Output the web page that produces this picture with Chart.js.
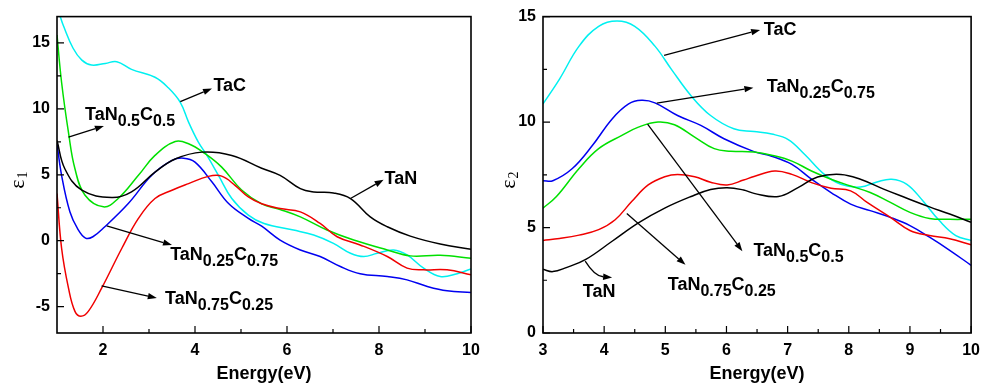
<!DOCTYPE html>
<html>
<head>
<meta charset="utf-8">
<script src="https://cdn.jsdelivr.net/npm/chart.js@4.4.1/dist/chart.umd.min.js"></script>
<style>
  html, body { margin: 0; padding: 0; background: #fff; }
  #wrap { position: relative; width: 988px; height: 388px; }
  canvas { position: absolute; top: 0; }
  #c1 { left: 0; }
  #c2 { left: 494px; }
</style>
</head>
<body>
<div id="wrap">
  <canvas id="c1" width="494" height="388"></canvas>
  <canvas id="c2" width="494" height="388"></canvas>
</div>
<script>
// ---------------- DATA: left panel (epsilon 1) ----------------
const L_TaC_E   = [1.0, 1.07, 1.14, 1.35, 1.54, 1.75, 2.05, 2.3, 2.62, 3.13, 3.42, 3.68, 3.86, 4.07, 4.26, 4.51, 4.8, 5.16, 5.5, 6.14, 6.58, 7.01, 7.38, 7.67, 7.96, 8.32, 8.61, 8.97, 9.33, 9.7, 10];
const L_TaC_V   = [17.7, 17.0, 16.3, 14.6, 13.7, 13.33, 13.45, 13.58, 13.0, 12.4, 11.6, 10.5, 9.0, 7.5, 6.47, 4.96, 3.2, 1.94, 1.3, 0.81, 0.43, -0.2, -0.95, -1.2, -0.95, -0.7, -1.08, -2.08, -2.72, -2.5, -2.14];

const L_TaN05_E = [1.0, 1.1, 1.25, 1.39, 1.61, 2.01, 2.33, 2.77, 3.13, 3.57, 3.86, 4.22, 4.58, 5.02, 5.45, 5.85, 6.29, 6.87, 7.45, 8.18, 8.68, 9.33, 10];
const L_TaN05_V = [15.6, 12.0, 8.2, 5.46, 3.45, 2.57, 3.2, 4.96, 6.47, 7.52, 7.35, 6.6, 5.58, 3.83, 2.8, 2.37, 1.81, 0.81, 0.05, -0.7, -1.15, -1.1, -1.33];

const L_TaN_E   = [1.0, 1.17, 1.54, 2.19, 2.62, 3.13, 3.57, 4.15, 4.8, 5.45, 5.85, 6.29, 6.58, 7.01, 7.38, 7.81, 8.18, 8.68, 9.33, 10];
const L_TaN_V   = [7.6, 5.46, 3.83, 3.27, 3.7, 5.2, 6.2, 6.72, 6.47, 5.5, 4.96, 3.95, 3.7, 3.62, 3.2, 1.81, 1.06, 0.35, -0.25, -0.65];

const L_TaN025_E = [1.0, 1.1, 1.28, 1.45, 1.62, 1.78, 2.04, 2.55, 3.06, 3.5, 3.75, 4.0, 4.37, 4.73, 5.16, 5.45, 5.85, 6.29, 6.72, 7.16, 7.59, 8.18, 8.61, 9.05, 9.48, 10];
const L_TaN025_V = [7.35, 4.96, 2.2, 0.9, 0.2, 0.3, 1.06, 2.82, 4.96, 6.09, 6.26, 5.96, 4.45, 2.82, 1.69, 1.1, 0.05, -0.7, -1.2, -1.96, -2.5, -2.72, -2.97, -3.47, -3.8, -3.92];

const L_TaN075_E = [1.0, 1.1, 1.25, 1.39, 1.52, 1.68, 1.97, 2.41, 2.77, 3.13, 3.5, 3.86, 4.29, 4.58, 4.87, 5.16, 5.45, 5.85, 6.29, 6.72, 7.09, 7.59, 8.18, 8.61, 8.97, 9.48, 10];
const L_TaN075_V = [3.58, -0.57, -3.6, -5.36, -5.73, -5.36, -3.6, -0.57, 1.69, 3.2, 3.83, 4.33, 4.88, 4.9, 4.2, 3.32, 2.8, 2.44, 2.19, 1.31, 0.3, -0.32, -1.2, -2.08, -2.21, -2.21, -2.59];

const L_xTicks = [2, 4, 6, 8, 10];
const L_xMinor = [3, 5, 7, 9];
const L_yTicks = [-5, 0, 5, 10, 15];
const L_yMinor = [-2.5, 2.5, 7.5, 12.5];

// ---------------- DATA: right panel (epsilon 2) ----------------
const R_TaC_E   = [3.0, 3.27, 3.59, 3.91, 4.21, 4.5, 4.83, 5.1, 5.42, 5.74, 6.12, 6.45, 6.74, 7.01, 7.28, 7.6, 7.87, 8.19, 8.46, 8.7, 8.95, 9.21, 9.48, 9.75, 10];
const R_TaC_V   = [10.86, 12.04, 13.6, 14.54, 14.79, 14.54, 13.6, 12.5, 11.25, 10.31, 9.68, 9.55, 9.43, 9.17, 8.46, 7.52, 7.05, 6.92, 7.16, 7.29, 7.05, 6.27, 5.33, 4.62, 4.39];

const R_TaN025_E = [3.0, 3.16, 3.48, 3.81, 4.13, 4.4, 4.61, 4.83, 5.2, 5.58, 5.96, 6.45, 6.74, 7.07, 7.39, 7.71, 8.03, 8.35, 8.68, 9.0, 9.32, 9.65, 10];
const R_TaN025_V = [7.22, 7.22, 7.8, 8.9, 10.15, 10.86, 11.03, 10.91, 10.31, 9.84, 9.21, 8.6, 8.38, 7.99, 7.29, 6.66, 6.11, 5.8, 5.48, 5.09, 4.54, 3.92, 3.21];

const R_TaN05_E = [3.0, 3.22, 3.59, 3.91, 4.29, 4.56, 4.88, 5.15, 5.48, 5.8, 6.07, 6.45, 6.74, 7.07, 7.39, 7.71, 8.03, 8.35, 8.68, 9.0, 9.32, 9.65, 10];
const R_TaN05_V = [5.92, 6.47, 7.8, 8.74, 9.37, 9.76, 10.0, 9.87, 9.29, 8.74, 8.62, 8.58, 8.43, 8.15, 7.68, 7.29, 6.97, 6.66, 6.19, 5.72, 5.43, 5.39, 5.39];

const R_TaN075_E = [3.0, 3.27, 3.59, 3.91, 4.18, 4.45, 4.72, 4.99, 5.2, 5.48, 5.74, 6.01, 6.28, 6.45, 6.79, 7.07, 7.39, 7.71, 8.03, 8.3, 8.68, 9.0, 9.32, 9.65, 10];
const R_TaN075_V = [4.39, 4.48, 4.64, 4.9, 5.37, 6.23, 7.02, 7.41, 7.52, 7.41, 7.15, 7.02, 7.25, 7.42, 7.68, 7.52, 7.13, 6.86, 6.74, 6.19, 5.48, 4.86, 4.62, 4.47, 4.18];

const R_TaN_E   = [3.0, 3.16, 3.38, 3.7, 4.13, 4.56, 4.99, 5.42, 5.74, 6.01, 6.28, 6.45, 6.85, 7.17, 7.49, 7.87, 8.19, 8.57, 8.95, 9.32, 9.65, 10];
const R_TaN_V   = [3.02, 2.91, 3.1, 3.49, 4.35, 5.22, 5.92, 6.47, 6.8, 6.89, 6.78, 6.62, 6.47, 6.89, 7.4, 7.52, 7.29, 6.82, 6.39, 5.98, 5.64, 5.25];

const R_xTicks = [3, 4, 5, 6, 7, 8, 9, 10];
const R_xMinor = [3.5, 4.5, 5.5, 6.5, 7.5, 8.5, 9.5];
const R_yTicks = [0, 5, 10, 15];
const R_yMinor = [2.5, 7.5, 12.5];

// ---------------- annotation texts (anchored in data units) ----------------
const LBL_TaC    = [['TaC', 0]];
const LBL_TaN    = [['TaN', 0]];
const LBL_TaN05  = [['TaN', 0], ['0.5', 1], ['C', 0], ['0.5', 1]];
const LBL_TaN025 = [['TaN', 0], ['0.25', 1], ['C', 0], ['0.75', 1]];
const LBL_TaN075 = [['TaN', 0], ['0.75', 1], ['C', 0], ['0.25', 1]];

const leftNotes = [
  { parts: LBL_TaC,    at: [4.40, 11.37], from: [3.68, 10.55], to: [4.37, 11.55] },
  { parts: LBL_TaN05,  at: [1.61, 9.18],  from: [1.25, 7.85],  to: [2.02, 8.70] },
  { parts: LBL_TaN,    at: [8.12, 4.33],  from: [7.38, 3.20],  to: [8.10, 4.63] },
  { parts: LBL_TaN025, at: [3.46, -1.46], from: [2.08, 1.13],  to: [3.50, -0.33] },
  { parts: LBL_TaN075, at: [3.35, -4.78], from: [1.97, -3.42], to: [3.17, -4.35] }
];
const rightNotes = [
  { parts: LBL_TaC,    at: [6.61, 14.15], from: [4.98, 13.16], to: [6.55, 14.37] },
  { parts: LBL_TaN025, at: [6.66, 11.44], from: [4.86, 10.90], to: [6.44, 11.63] },
  { parts: LBL_TaN05,  at: [6.44, 3.63],  from: [4.71, 9.90],  to: [6.26, 3.88] },
  { parts: LBL_TaN075, at: [5.04, 2.04],  from: [4.37, 5.66],  to: [5.33, 3.23] },
  { parts: LBL_TaN,    at: [3.65, 1.69],  from: [3.69, 3.41],  to: [4.13, 2.63], bend: 0.25 }
];

// ---------------- styling ----------------
const FAMILY = '"Liberation Sans", Arial, Helvetica, sans-serif';
const MAIN_FONT = 'bold 18px ' + FAMILY;
const SUB_FONT  = 'bold 16px ' + FAMILY;
const COLORS = { TaC: '#00f0f0', TaN05: '#00e000', TaN: '#000000', TaN025: '#0000f0', TaN075: '#f00000' };

function pts(E, V) { return E.map((e, i) => ({ x: e, y: V[i] })); }
function ds(label, E, V, color) {
  return { label, data: pts(E, V), borderColor: color, borderWidth: 1.5, pointRadius: 0,
           fill: false, tension: 0.4 };
}

function drawRich(ctx, parts, x, y) {
  let cx = x;
  ctx.textAlign = 'left';
  ctx.textBaseline = 'alphabetic';
  for (const [t, sub] of parts) {
    ctx.font = sub ? SUB_FONT : MAIN_FONT;
    ctx.fillText(t, cx, sub ? y + 6 : y);
    cx += ctx.measureText(t).width;
  }
}

function arrow(ctx, x1, y1, x2, y2, bend) {
  const L = 9, W = 3.2;
  let cx = null, cy = null, ang;
  if (bend) {
    // control point offset perpendicular to the chord
    const mx = (x1 + x2) / 2, my = (y1 + y2) / 2;
    const dx = x2 - x1, dy = y2 - y1;
    cx = mx - dy * bend; cy = my + dx * bend;
    ang = Math.atan2(y2 - cy, x2 - cx);
  } else {
    ang = Math.atan2(y2 - y1, x2 - x1);
  }
  const bx = x2 - L * Math.cos(ang), by = y2 - L * Math.sin(ang);
  ctx.beginPath();
  ctx.moveTo(x1, y1);
  if (bend) ctx.quadraticCurveTo(cx, cy, bx, by); else ctx.lineTo(bx, by);
  ctx.stroke();
  ctx.beginPath();
  ctx.moveTo(x2, y2);
  ctx.lineTo(bx + W * Math.sin(ang), by - W * Math.cos(ang));
  ctx.lineTo(bx - W * Math.sin(ang), by + W * Math.cos(ang));
  ctx.closePath();
  ctx.fill();
}

const framePlugin = {
  id: 'frame',
  afterDraw(chart, args, o) {
    const { ctx, chartArea: a, scales: { x, y } } = chart;
    ctx.save();
    ctx.strokeStyle = '#000';
    ctx.fillStyle = '#000';
    // ticks (inside)
    ctx.lineWidth = 1.2;
    ctx.beginPath();
    for (const v of o.xMajor) { const px = x.getPixelForValue(v); ctx.moveTo(px, a.bottom); ctx.lineTo(px, a.bottom - 7); }
    for (const v of o.xMinor) { const px = x.getPixelForValue(v); ctx.moveTo(px, a.bottom); ctx.lineTo(px, a.bottom - 4); }
    for (const v of o.yMajor) { const py = y.getPixelForValue(v); ctx.moveTo(a.left, py); ctx.lineTo(a.left + 7, py); }
    for (const v of o.yMinor) { const py = y.getPixelForValue(v); ctx.moveTo(a.left, py); ctx.lineTo(a.left + 4, py); }
    ctx.stroke();
    // frame
    ctx.lineWidth = 1.6;
    ctx.strokeRect(a.left, a.top, a.right - a.left, a.bottom - a.top);
    // arrows + labels
    ctx.lineWidth = 1.3;
    for (const n of o.notes) {
      arrow(ctx, x.getPixelForValue(n.from[0]), y.getPixelForValue(n.from[1]),
                 x.getPixelForValue(n.to[0]),   y.getPixelForValue(n.to[1]), n.bend || 0);
      drawRich(ctx, n.parts, x.getPixelForValue(n.at[0]), y.getPixelForValue(n.at[1]));
    }
    // y axis title: epsilon with subscript, rotated
    ctx.translate(a.left - o.yTitleOffset, (a.top + a.bottom) / 2 + 14);
    ctx.rotate(-Math.PI / 2);
    ctx.textBaseline = 'middle';
    ctx.textAlign = 'left';
    ctx.font = '22px "Liberation Serif", "DejaVu Serif", serif';
    const w = ctx.measureText('ε').width;
    ctx.fillText('ε', 0, 0);
    ctx.font = '14px "Liberation Serif", "DejaVu Serif", serif';
    ctx.fillText(o.ySub, w + 1, 5);
    ctx.restore();
  }
};

function makeChart(id, cfg) {
  return new Chart(document.getElementById(id), {
    type: 'line',
    data: { datasets: cfg.datasets },
    options: {
      responsive: false,
      animation: false,
      events: [],
      layout: { padding: { top: cfg.top, right: cfg.right, left: 0, bottom: 0 } },
      plugins: {
        legend: { display: false },
        tooltip: { enabled: false },
        frame: { xMajor: cfg.xTicks, xMinor: cfg.xMinor, yMajor: cfg.yTicks, yMinor: cfg.yMinor,
                 notes: cfg.notes, ySub: cfg.ySub, yTitleOffset: cfg.yTitleOffset }
      },
      scales: {
        x: {
          type: 'linear', min: cfg.xMin, max: cfg.xMax,
          grid: { display: false, drawTicks: false }, border: { display: false },
          afterBuildTicks: s => { s.ticks = cfg.xTicks.map(v => ({ value: v })); },
          afterFit: s => { s.height = 388 - cfg.bottom; },
          ticks: { color: '#000', font: { family: FAMILY, size: 16, weight: 'bold' }, padding: 8,
                   maxRotation: 0, autoSkip: false },
          title: { display: true, text: 'Energy(eV)', color: '#000',
                   font: { family: FAMILY, size: 18, weight: 'bold' }, padding: { top: 0, bottom: 3 } }
        },
        y: {
          type: 'linear', min: cfg.yMin, max: cfg.yMax,
          grid: { display: false, drawTicks: false }, border: { display: false },
          afterBuildTicks: s => { s.ticks = cfg.yTicks.map(v => ({ value: v })); },
          afterFit: s => { s.width = cfg.left; },
          ticks: { color: '#000', font: { family: FAMILY, size: 16, weight: 'bold' }, padding: 7, autoSkip: false }
        }
      }
    },
    plugins: [framePlugin]
  });
}

makeChart('c1', {
  datasets: [
    ds('TaN', L_TaN_E, L_TaN_V, COLORS.TaN),
    ds('TaN0.75C0.25', L_TaN075_E, L_TaN075_V, COLORS.TaN075),
    ds('TaN0.5C0.5', L_TaN05_E, L_TaN05_V, COLORS.TaN05),
    ds('TaN0.25C0.75', L_TaN025_E, L_TaN025_V, COLORS.TaN025),
    ds('TaC', L_TaC_E, L_TaC_V, COLORS.TaC)
  ],
  xMin: 1, xMax: 10, yMin: -7, yMax: 17,
  xTicks: L_xTicks, xMinor: L_xMinor, yTicks: L_yTicks, yMinor: L_yMinor,
  notes: leftNotes, ySub: '1', yTitleOffset: 39,
  left: 57, top: 16, right: 494 - 471, bottom: 333
});

makeChart('c2', {
  datasets: [
    ds('TaN', R_TaN_E, R_TaN_V, COLORS.TaN),
    ds('TaN0.75C0.25', R_TaN075_E, R_TaN075_V, COLORS.TaN075),
    ds('TaN0.5C0.5', R_TaN05_E, R_TaN05_V, COLORS.TaN05),
    ds('TaN0.25C0.75', R_TaN025_E, R_TaN025_V, COLORS.TaN025),
    ds('TaC', R_TaC_E, R_TaC_V, COLORS.TaC)
  ],
  xMin: 3, xMax: 10, yMin: 0, yMax: 15,
  xTicks: R_xTicks, xMinor: R_xMinor, yTicks: R_yTicks, yMinor: R_yMinor,
  notes: rightNotes, ySub: '2', yTitleOffset: 34,
  left: 49, top: 14, right: 494 - 483, bottom: 333
});
</script>
</body>
</html>
